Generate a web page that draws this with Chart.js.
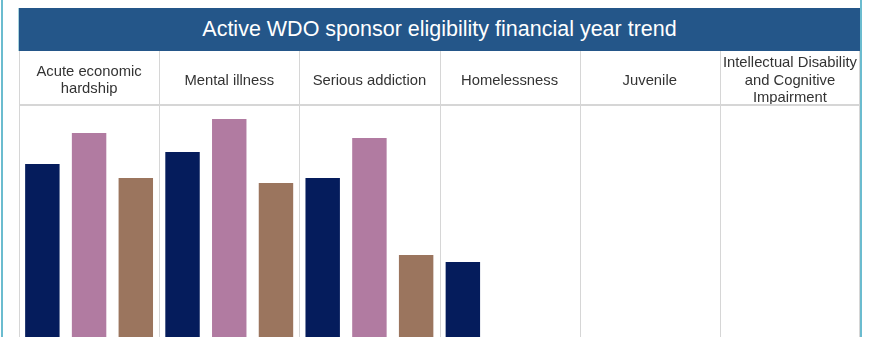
<!doctype html>
<html lang="en">
<head>
    <meta charset="utf-8">
    <title>Active WDO sponsor eligibility financial year trend</title>
    <script src="https://cdn.jsdelivr.net/npm/chart.js@4.4.0/dist/chart.umd.min.js"></script>
    <style>
        body { margin: 0; background: #fff; font-family: "Liberation Sans", Arial, sans-serif; overflow: hidden; }
        #frame { position: absolute; left: 1px; top: 0; width: 857px; height: 337px;
                 border-left: 2px solid #6bbccf; border-right: 2px solid #6bbccf; }
        #title { position: absolute; left: 18px; top: 8px; width: 841px; height: 43px;
                 border-left: 1px solid #a6d3de; background: #245689; color: #fff;
                 font-size: 21.5px; line-height: 43px; text-align: center; }
        #wrap { position: absolute; left: 19px; top: 51px; width: 841px; height: 286px; }
    </style>
</head>
<body>
    <div id="frame"></div>
    <div id="title">Active WDO sponsor eligibility financial year trend</div>
    <div id="wrap"><canvas id="myChart"></canvas></div>

    <script>
        // column headers (categories) and the three yearly series
        const categories = [
            ['Acute economic', 'hardship'],
            'Mental illness',
            'Serious addiction',
            'Homelessness',
            'Juvenile',
            ['Intellectual Disability', 'and Cognitive', 'Impairment']
        ];
        const seriesLabels = ['Year 1', 'Year 2', 'Year 3'];
        const year1 = [174, 186, 160, 76, 0, 0];
        const year2 = [205, 219, 200, 0, 0, 0];
        const year3 = [160, 155, 83, 0, 0, 0];
        const colors = ['#051c5c', '#b17ba1', '#9b755e'];

        // table lines: column separators through header + plot, line under header
        const tableLines = {
            id: 'tableLines',
            beforeDatasetsDraw(chart) {
                const { ctx, chartArea, scales: { x } } = chart;
                ctx.save();
                ctx.strokeStyle = '#d6d6d6';
                ctx.lineWidth = 1;
                for (let i = 0; i <= categories.length; i++) {
                    let px = Math.round(x.getPixelForValue(i - 0.5));
                    px = Math.min(Math.max(px, chartArea.left), chartArea.right - 1) + 0.5;
                    ctx.beginPath();
                    ctx.moveTo(px, x.top);
                    ctx.lineTo(px, chartArea.bottom);
                    ctx.stroke();
                }
                ctx.lineWidth = 2;
                ctx.beginPath();
                ctx.moveTo(chartArea.left, chartArea.top);
                ctx.lineTo(chartArea.right, chartArea.top);
                ctx.stroke();
                ctx.restore();
            }
        };

        const data = {
            labels: categories,
            datasets: [year1, year2, year3].map((vals, i) => ({
                label: seriesLabels[i],
                data: vals,
                backgroundColor: colors[i],
                borderColor: 'rgba(255,255,255,0.2)',
                borderWidth: 1,
                categoryPercentage: 1.0,
                barPercentage: 0.78,
            }))
        };

        const config = {
            type: 'bar',
            data: data,
            options: {
                responsive: true,
                maintainAspectRatio: false,
                animation: false,
                layout: { padding: 0 },
                plugins: {
                    legend: { display: false },
                    tooltip: { enabled: false },
                },
                scales: {
                    x: {
                        position: 'top',
                        grid: { display: false, drawTicks: false },
                        border: { display: false },
                        ticks: {
                            color: '#333',
                            font: { family: "'Liberation Sans', Arial, sans-serif", size: 14.8, lineHeight: 1.18 },
                            crossAlign: 'center',
                            padding: 7,
                            autoSkip: false,
                            maxRotation: 0,
                        },
                        afterFit(scale) {
                            scale.height = 54;
                            scale.paddingLeft = 0;
                            scale.paddingRight = 0;
                        }
                    },
                    y: {
                        display: false,
                        min: 0,
                        max: 232,
                    }
                },
            },
            plugins: [tableLines]
        };

        new Chart(document.getElementById('myChart'), config);
    </script>
</body>
</html>
